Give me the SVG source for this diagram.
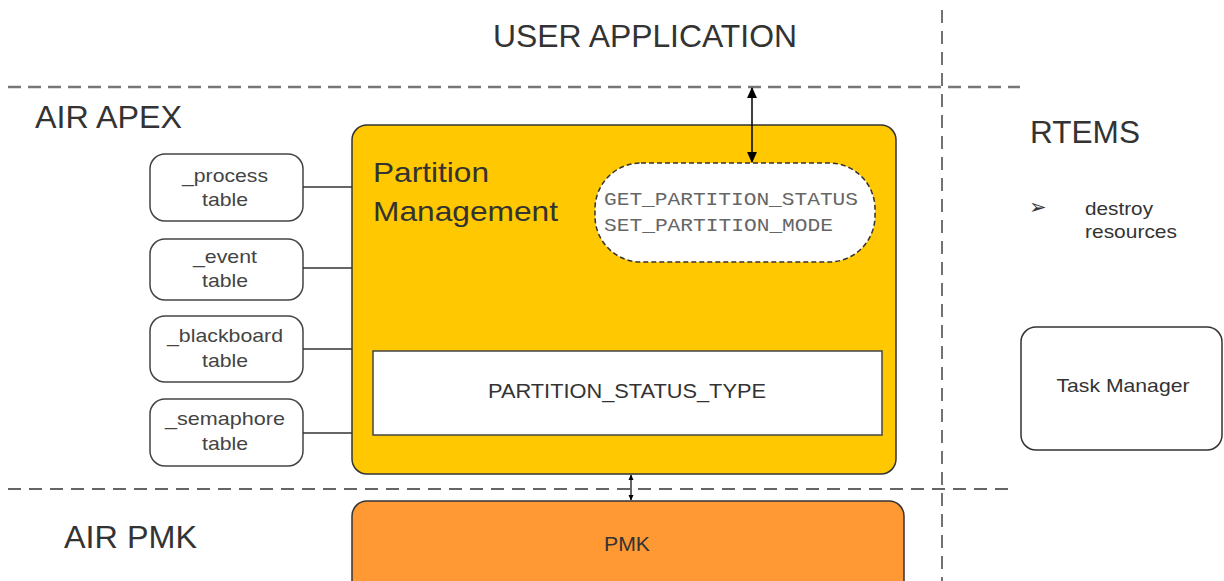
<svg xmlns="http://www.w3.org/2000/svg" width="1224" height="581" viewBox="0 0 1224 581">
  <defs>
    <marker id="ah" viewBox="0 0 10 10" refX="9" refY="5" markerWidth="13" markerHeight="11" orient="auto-start-reverse" markerUnits="userSpaceOnUse">
      <path d="M0,0.5 L10,5 L0,9.5 z" fill="#000"/>
    </marker>
    <marker id="ahs" viewBox="0 0 10 10" refX="9" refY="5" markerWidth="6" markerHeight="7" orient="auto-start-reverse" markerUnits="userSpaceOnUse">
      <path d="M0,0.5 L10,5 L0,9.5 z" fill="#000"/>
    </marker>
  </defs>
  <style>
    text { font-family: "Liberation Sans", Arial, sans-serif; fill: #333; }
    .layer { font-size: 31px; }
    .tbl { fill: #fff; stroke: #444; stroke-width: 1.5; }
    .tbltxt { font-size: 19px; text-anchor: middle; fill: #444; }
    .mono { font-family: "Liberation Mono", "Courier New", monospace; font-size: 19px; fill: #666; }
    .link { stroke: #333; stroke-width: 1.5; fill: none; }
  </style>
  <rect width="1224" height="581" fill="#fff"/>

  <!-- layer separators -->
  <g id="separators" fill="none">
    <line x1="8" y1="87" x2="1020" y2="87" stroke="#777" stroke-width="2.5" stroke-dasharray="13,7"/>
    <line x1="942" y1="10" x2="942" y2="581" stroke="#444" stroke-width="1.5" stroke-dasharray="13,8"/>
    <line x1="8" y1="489" x2="1015" y2="489" stroke="#333" stroke-width="1.5" stroke-dasharray="13,8"/>
  </g>

  <!-- layer titles -->
  <text class="layer" x="493" y="47" textLength="304" lengthAdjust="spacingAndGlyphs">USER APPLICATION</text>
  <text class="layer" x="35" y="128" textLength="147" lengthAdjust="spacingAndGlyphs">AIR APEX</text>
  <text class="layer" x="1030" y="143" textLength="110" lengthAdjust="spacingAndGlyphs">RTEMS</text>
  <text class="layer" x="64" y="548" textLength="133" lengthAdjust="spacingAndGlyphs">AIR PMK</text>

  <!-- partition management -->
  <g id="partition-management">
    <rect x="352" y="125" width="544" height="349" rx="15" fill="#FFC800" stroke="#333" stroke-width="1.5"/>
    <text x="373" y="182" font-size="28" fill="#222" textLength="116" lengthAdjust="spacingAndGlyphs">Partition</text>
    <text x="373" y="221" font-size="28" fill="#222" textLength="185" lengthAdjust="spacingAndGlyphs">Management</text>
  </g>

  <g id="services">
    <rect x="595" y="163" width="280" height="99" rx="46" fill="#fff" stroke="#333" stroke-width="1.5" stroke-dasharray="5,3"/>
    <text class="mono" x="604" y="205" textLength="254" lengthAdjust="spacingAndGlyphs">GET_PARTITION_STATUS</text>
    <text class="mono" x="604" y="231" textLength="229" lengthAdjust="spacingAndGlyphs">SET_PARTITION_MODE</text>
  </g>

  <g id="status-type">
    <rect x="373" y="351" width="509" height="84" fill="#fff" stroke="#444" stroke-width="1.5"/>
    <text x="627" y="398" font-size="21" text-anchor="middle" textLength="278" lengthAdjust="spacingAndGlyphs">PARTITION_STATUS_TYPE</text>
  </g>

  <!-- tables -->
  <g id="process-table">
    <rect class="tbl" x="150" y="154" width="153" height="67" rx="15"/>
    <text class="tbltxt" x="225" y="182" textLength="86" lengthAdjust="spacingAndGlyphs">_process</text>
    <text class="tbltxt" x="225" y="206" textLength="46" lengthAdjust="spacingAndGlyphs">table</text>
  </g>
  <g id="event-table">
    <rect class="tbl" x="150" y="239" width="153" height="61" rx="15"/>
    <text class="tbltxt" x="225" y="263" textLength="64" lengthAdjust="spacingAndGlyphs">_event</text>
    <text class="tbltxt" x="225" y="287" textLength="46" lengthAdjust="spacingAndGlyphs">table</text>
  </g>
  <g id="blackboard-table">
    <rect class="tbl" x="150" y="316" width="153" height="66" rx="15"/>
    <text class="tbltxt" x="225" y="342" textLength="116" lengthAdjust="spacingAndGlyphs">_blackboard</text>
    <text class="tbltxt" x="225" y="367" textLength="46" lengthAdjust="spacingAndGlyphs">table</text>
  </g>
  <g id="semaphore-table">
    <rect class="tbl" x="150" y="399" width="153" height="67" rx="15"/>
    <text class="tbltxt" x="225" y="425" textLength="120" lengthAdjust="spacingAndGlyphs">_semaphore</text>
    <text class="tbltxt" x="225" y="450" textLength="46" lengthAdjust="spacingAndGlyphs">table</text>
  </g>

  <!-- PMK -->
  <g id="pmk">
    <rect x="352" y="501" width="552" height="100" rx="15" fill="#FF9933" stroke="#333" stroke-width="1.5"/>
    <text x="627" y="551" font-size="20" text-anchor="middle" fill="#222" textLength="46" lengthAdjust="spacingAndGlyphs">PMK</text>
  </g>

  <!-- RTEMS side -->
  <g id="rtems-note">
    <text x="1029" y="214" font-size="21" fill="#333">➢</text>
    <text x="1085" y="215" font-size="19" fill="#444" textLength="68" lengthAdjust="spacingAndGlyphs">destroy</text>
    <text x="1085" y="238" font-size="19" fill="#444" textLength="92" lengthAdjust="spacingAndGlyphs">resources</text>
  </g>
  <g id="task-manager">
    <rect x="1021" y="327" width="201" height="123" rx="15" fill="#fff" stroke="#333" stroke-width="1.5"/>
    <text x="1123" y="392" font-size="19" text-anchor="middle" textLength="133" lengthAdjust="spacingAndGlyphs">Task Manager</text>
  </g>

  <!-- connectors -->
  <g id="connectors">
    <line class="link" x1="303" y1="187" x2="352" y2="187"/>
    <line class="link" x1="303" y1="268" x2="352" y2="268"/>
    <line class="link" x1="303" y1="349" x2="352" y2="349"/>
    <line class="link" x1="303" y1="433" x2="352" y2="433"/>
    <line x1="752" y1="88" x2="752" y2="162" stroke="#000" stroke-width="1.5" marker-start="url(#ah)" marker-end="url(#ah)"/>
    <line x1="631" y1="475" x2="631" y2="500" stroke="#000" stroke-width="1.2" marker-start="url(#ahs)" marker-end="url(#ahs)"/>
  </g>
</svg>
